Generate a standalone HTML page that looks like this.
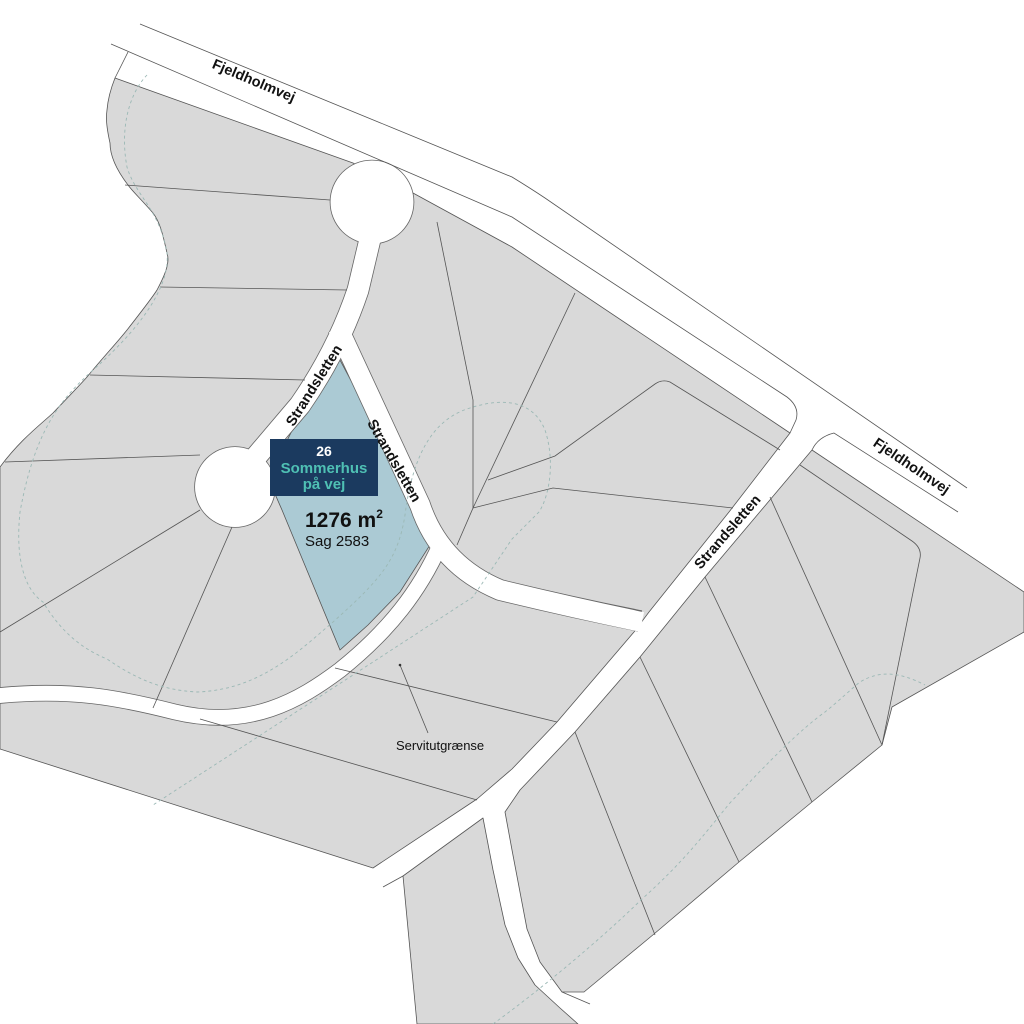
<!DOCTYPE html>
<html><head><meta charset="utf-8"><style>
html,body{margin:0;padding:0;background:#fff}
svg{display:block}
text{font-family:"Liberation Sans",sans-serif}
</style></head><body>
<svg width="1024" height="1024" viewBox="0 0 1024 1024" xmlns="http://www.w3.org/2000/svg">
<rect width="1024" height="1024" fill="#fff"/>
<g fill="#d9d9d9" stroke="#555" stroke-width="0.8" stroke-linejoin="round">
<path d="M115,78 L353,163 L413,193 L512,247 L790,433 L729,512 L649,612 L634,632 L557,722 L512,769 L477,799 L373,868 L0,749 L0,467 C20,440 40,425 53,413 C70,395 80,385 87,377 C105,355 115,345 127,330 C145,307 152,298 157,290 C166,273 170,262 167,253 C163,235 160,222 153,213 C140,198 133,192 128,185 C115,168 110,155 110,143 C106,125 106,117 107,110 C108,98 111,88 115,78 Z"/>
<path d="M812,450 L1024,592 L1024,632 L892,707 L882,745 L812,802 L739,862 L654,934 L584,992 L562,992 L540,962 L527,929 L512,850 L505,812 L520,790 L575,732 L640,657 L705,577 Z"/>
<path d="M403,876 L483,818 L493,870 L505,925 L518,958 L535,985 L560,1008 L578,1024 L417,1024 Z"/>
</g>
<path d="M340,360 L372,420 L405,487 L420,520 L430,545 L400,592 L368,625 L340,650 L282,510 L268,478 L300,415 Z" fill="#abcad4" stroke="#555" stroke-width="0.8"/>
<g fill="none" stroke="#666" stroke-linecap="butt" stroke-linejoin="round">
<path d="M371,235 L358,290 Q338,350 300,405 L255,458" stroke-width="22.6"/>
<path d="M338,328 L420,505 Q440,565 500,590 Q570,607 640,621" stroke-width="21.6"/>
<path d="M-5,696 C70,688 120,698 175,712 C250,730 300,700 340,670 C390,630 420,590 440,545" stroke-width="16.6"/>
</g>
<circle cx="372" cy="202" r="42.3" fill="#666"/>
<circle cx="235" cy="487" r="40.8" fill="#666"/>
<g fill="none" stroke="#fff" stroke-linecap="butt" stroke-linejoin="round">
<path d="M371,235 L358,290 Q338,350 300,405 L255,458" stroke-width="21"/>
<path d="M338,328 L420,505 Q440,565 500,590 Q570,607 642,622" stroke-width="20"/>
<path d="M-5,696 C70,688 120,698 175,712 C250,730 300,700 340,670 C390,630 420,590 440,545" stroke-width="15"/>
</g>
<circle cx="372" cy="202" r="41.5" fill="#fff"/>
<circle cx="235" cy="487" r="40" fill="#fff"/>
<g fill="none" stroke="#555" stroke-width="0.8">
<path d="M140,24 L512,177 Q530,188 545,198 L967,488"/>
<path d="M111,44 L512,217 L787,397 Q800,407 796,420 L790,433"/>
<path d="M128,52 L115,78"/>
<path d="M812,450 Q818,437 834,433 L958,512"/>
<path d="M383,887 L403,876"/>
<path d="M562,992 L590,1004"/>
<path d="M125,185 L330,200"/>
<path d="M160,287 L347,290"/>
<path d="M90,375 L305,380"/>
<path d="M5,462 L200,455"/>
<path d="M200,510 L0,632"/>
<path d="M232,527 L153,708"/>
<path d="M437,222 L473,400 L473,508 L457,545"/>
<path d="M575,293 L473,508"/>
<path d="M780,450 L670,382 Q662,379 655,384 L555,456 L488,480"/>
<path d="M473,508 L553,488 L733,508"/>
<path d="M335,668 L557,722"/>
<path d="M200,719 L477,800"/>
<path d="M575,732 L655,935"/>
<path d="M640,657 L739,862"/>
<path d="M705,577 L812,802"/>
<path d="M770,497 L882,745"/>
<path d="M800,465 L912,541 Q922,548 920,558 L882,745"/>
<path d="M400,665 L428,733"/>
</g>
<circle cx="400" cy="665" r="1.3" fill="#333"/>
<g fill="none" stroke="#9bb8b5" stroke-width="0.9" stroke-dasharray="3,3">
<path d="M147,75 C128,95 120,130 127,167 C135,195 160,210 167,253 C170,280 150,320 93,370 C60,400 35,430 20,512 C15,560 25,590 43,602 C60,630 80,648 107,659 C135,678 160,690 197,692 C260,690 300,650 333,622 C380,580 398,560 405,515 C412,460 430,420 470,408 C510,395 535,405 545,430 C555,460 550,495 539,512 L512,539 L473,597 L153,805"/>
<path d="M493,1024 C540,990 600,940 642,899 C680,865 700,840 729,804 C770,760 800,730 825,712 C840,700 850,690 860,682 C880,670 900,672 925,685"/>
</g>
<rect x="270" y="439" width="108" height="57" fill="#1b3a5f"/>
<g text-anchor="middle" font-weight="bold">
<text x="324" y="456" fill="#fff" font-size="14">26</text>
<text x="324" y="473" fill="#4fc0b4" font-size="15">Sommerhus</text>
<text x="324" y="489" fill="#4fc0b4" font-size="15">på vej</text>
</g>
<text x="305" y="527" font-size="21" font-weight="bold" fill="#111">1276<tspan> m</tspan><tspan font-size="12" dy="-9">2</tspan></text>
<text x="305" y="546" font-size="15" fill="#111">Sag 2583</text>
<g font-weight="bold" font-size="14.5" fill="#111" text-anchor="middle">
<text transform="translate(252,85) rotate(23)">Fjeldholmvej</text>
<text transform="translate(909,470) rotate(34)">Fjeldholmvej</text>
<text transform="translate(318,388) rotate(-58)">Strandsletten</text>
<text transform="translate(390,463) rotate(60)">Strandsletten</text>
<text transform="translate(731,535) rotate(-49)">Strandsletten</text>
</g>
<text x="396" y="750" font-size="13" fill="#111">Servitutgrænse</text>
</svg>
</body></html>
